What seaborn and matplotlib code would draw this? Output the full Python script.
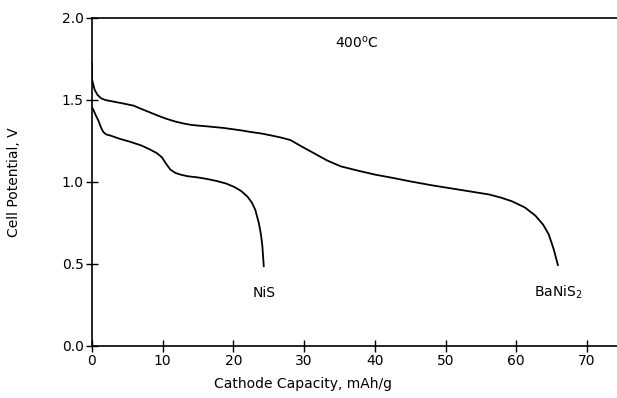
import numpy as np
import pandas as pd
import seaborn as sns
import matplotlib.pyplot as plt

# 放电曲线数据
banis2_cap = [0, 0, 0.15, 0.4, 0.8, 1.3, 1.85, 3.0, 4.45, 5.9, 7.0, 8.2, 9.4, 10.6, 11.8, 13.0, 14.0,
              14.9, 16.5, 18.65, 21.0, 22.4, 24.0, 25.3, 26.8, 28.1, 29.7, 31.4, 33.3, 35.2, 37.5,
              40.0, 42.5, 45.2, 48.0, 50.9, 53.5, 56.1, 57.8, 59.4, 61.2, 62.7, 63.8, 64.6, 65.3, 65.9]
banis2_v = [1.73, 1.63, 1.60, 1.56, 1.53, 1.51, 1.50, 1.49, 1.478, 1.465, 1.445, 1.424, 1.403, 1.384,
            1.368, 1.356, 1.348, 1.344, 1.338, 1.329, 1.315, 1.305, 1.295, 1.284, 1.27, 1.255, 1.215,
            1.175, 1.13, 1.095, 1.07, 1.045, 1.025, 1.002, 0.98, 0.96, 0.942, 0.924, 0.905, 0.882,
            0.845, 0.795, 0.74, 0.68, 0.59, 0.492]

nis_cap = [0, 0.2, 0.5, 0.9, 1.3, 1.6, 2.0, 2.6, 4.0, 5.4, 7.0, 8.2, 9.2, 9.9, 10.5, 11.1, 11.8, 12.5,
           13.5, 14.9, 16.3, 17.7, 19.0, 20.1, 21.1, 22.0, 22.6, 23.1, 23.6, 23.9, 24.1, 24.3]
nis_v = [1.455, 1.44, 1.41, 1.375, 1.33, 1.305, 1.29, 1.283, 1.262, 1.245, 1.222, 1.198, 1.175, 1.15,
         1.11, 1.075, 1.055, 1.045, 1.035, 1.028, 1.018, 1.005, 0.99, 0.97, 0.945, 0.91, 0.875, 0.83,
         0.75, 0.68, 0.61, 0.485]

x_ticks = [0, 10, 20, 30, 40, 50, 60, 70]
y_ticks = [0.0, 0.5, 1.0, 1.5, 2.0]

sns.set_style("white", {"xtick.bottom": True, "ytick.left": True,
                        "text.color": "black", "axes.labelcolor": "black",
                        "xtick.color": "black", "ytick.color": "black"})
plt.rcParams['font.family'] = ['DejaVu Sans']

fig = plt.figure(figsize=(6.17, 3.98), dpi=100)
ax = fig.add_axes([0.149, 0.1307, 0.855, 0.8243])

sns.lineplot(x=banis2_cap, y=banis2_v, sort=False, estimator=None, color='black', lw=1.3, ax=ax)
sns.lineplot(x=nis_cap, y=nis_v, sort=False, estimator=None, color='black', lw=1.3, ax=ax)

ax.set_xlim(0, 74.6)
ax.set_ylim(0, 2.0)
ax.set_xticks(x_ticks)
ax.set_yticks(y_ticks)
ax.set_yticklabels([f"{v:.1f}" for v in y_ticks])
ax.tick_params(direction='inout', length=8, width=1, color='black', labelcolor='black',
               labelsize=10, pad=2)

for s in ['left', 'bottom', 'top']:
    ax.spines[s].set_color('black')
    ax.spines[s].set_linewidth(1.2)
ax.spines['right'].set_visible(False)

ax.set_xlabel("Cathode Capacity, mAh/g", fontsize=10, color='black')
ax.set_ylabel("Cell Potential, V", fontsize=10, color='black')
ax.xaxis.set_label_coords(0.40, -0.095)
ax.yaxis.set_label_coords(-0.135, 0.5)

ax.text(37.5, 1.85, "400$^{\\mathregular{o}}$C", fontsize=10, ha='center', va='center', color='black')
ax.text(24.3, 0.32, "NiS", fontsize=10, ha='center', va='center', color='black')
ax.text(62.5, 0.33, "BaNiS$_{\\mathregular{2}}$", fontsize=10, ha='left', va='center', color='black')

fig.savefig("out.png", dpi=100)
